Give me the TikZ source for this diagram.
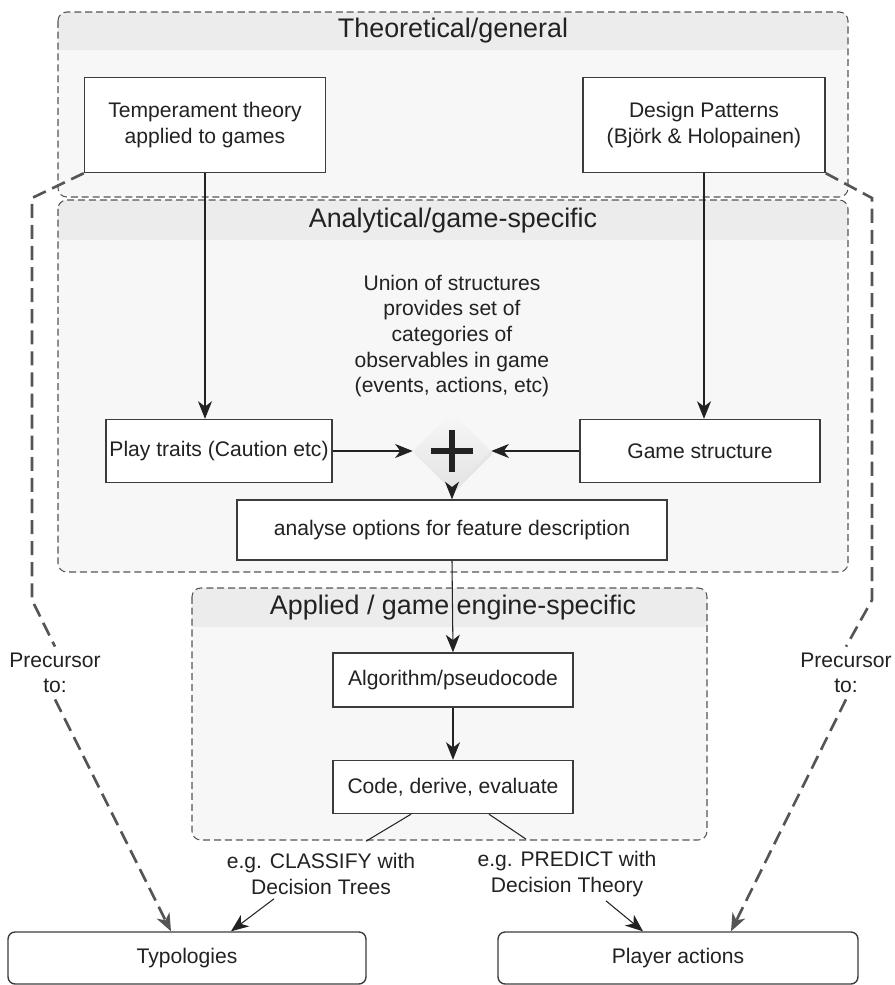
\documentclass[tikz,border=0pt]{standalone}
\usepackage{fontspec}
\setmainfont{Liberation Sans}
\usetikzlibrary{shapes.geometric, arrows.meta, positioning, calc, shadows}

\definecolor{zonefill}{HTML}{F7F7F7}
\definecolor{bandfill}{HTML}{ECECEC}
\definecolor{edgegray}{HTML}{3C3C3C}
\definecolor{dashgray}{HTML}{555555}
\definecolor{inkgray}{HTML}{222222}

\begin{document}
\begin{tikzpicture}[x=0.02cm, y=-0.02cm,
    every node/.style={font=\fontsize{12}{14.6}\selectfont, text=inkgray},
    zone/.style={draw=dashgray, line width=0.6pt, dash pattern=on 4pt off 2.2pt, rounded corners=5pt},
    zonetitle/.style={font=\fontsize{15.3}{18}\selectfont},
    box/.style={draw=edgegray, line width=0.8pt, fill=white, align=center, inner sep=2pt},
    endbox/.style={box, rounded corners=4pt},
    flow/.style={-{Stealth[length=10pt, width=8pt, inset=3pt]}, line width=0.6pt, draw=inkgray},
    link/.style={line width=0.6pt, draw=inkgray},
    precursor/.style={draw=dashgray, line width=1.5pt, dash pattern=on 8pt off 4pt},
    precarrow/.style={precursor, -{Stealth[length=10pt, width=8pt, inset=3pt]}}
]
\useasboundingbox (0,0) rectangle (894,985);

% Theoretical zone
\fill[zonefill, rounded corners=5pt] (58,12) rectangle (848,197);
\begin{scope}
    \clip[rounded corners=5pt] (58,12) rectangle (848,197);
    \fill[bandfill] (58,12) rectangle (848,50);
\end{scope}
\draw[zone] (58,12) rectangle (848,197);
\node[zonetitle] (theotitle) at (453,31) {Theoretical/general};

% Analytical zone
\fill[zonefill, rounded corners=5pt] (58,200) rectangle (848,572);
\begin{scope}
    \clip[rounded corners=5pt] (58,200) rectangle (848,572);
    \fill[bandfill] (58,200) rectangle (848,240);
\end{scope}
\draw[zone] (58,200) rectangle (848,572);
\node[zonetitle] (anatitle) at (453,221) {Analytical/game-specific};

% Applied zone
\fill[zonefill, rounded corners=5pt] (192,588) rectangle (707,840);
\begin{scope}
    \clip[rounded corners=5pt] (192,588) rectangle (707,840);
    \fill[bandfill] (192,588) rectangle (707,627);
\end{scope}
\draw[zone] (192,588) rectangle (707,840);
\node[zonetitle] (apptitle) at (453,608) {Applied / game engine-specific};

% Boxes
\node[box, minimum width=4.82cm, minimum height=1.9cm] (temp) at (205,125)
    {Temperament theory\\[0.5pt]applied to games};
\node[box, minimum width=4.84cm, minimum height=1.9cm] (design) at (704,125)
    {Design Patterns\\[0.5pt](Björk \& Holopainen)};
\node[box, minimum width=3.96cm, minimum height=1.26cm] (traits) at (219,451) {Play traits (Caution etc)};
\node[box, minimum width=4.8cm, minimum height=1.26cm] (gstruct) at (700,451) {Game structure};
\node[align=center] (union) at (452,336)
    {Union of structures\\provides set of\\categories of\\observables in game\\(events, actions, etc)};
\node[diamond, aspect=1, minimum width=1.56cm, minimum height=1.56cm, inner sep=0pt,
      top color=gray!6, bottom color=gray!22, draw=none,
      drop shadow={shadow xshift=1pt, shadow yshift=-1.5pt, opacity=0.15}] (plus) at (452,451) {};
\draw[line width=3.4pt, inkgray] ($(plus.center)+(-21,0)$) -- ($(plus.center)+(21,0)$);
\draw[line width=3.4pt, inkgray] ($(plus.center)+(0,-21)$) -- ($(plus.center)+(0,21)$);
\node[box, minimum width=8.6cm, minimum height=1.2cm] (analyse) at (452,530) {analyse options for feature description};
\node[box, minimum width=4.8cm, minimum height=1.08cm] (algo) at (453,680) {Algorithm/pseudocode};
\node[box, minimum width=4.8cm, minimum height=1.06cm] (code) at (453,787) {Code, derive, evaluate};

% Outcomes
\node[align=center] (cls) at (321,874) {e.g. CLASSIFY with\\Decision Trees};
\node[align=center] (prd) at (567,874) {e.g. PREDICT with\\Decision Theory};
\node[endbox, minimum width=7.16cm, minimum height=1.04cm] (typ) at (187,958) {Typologies};
\node[endbox, minimum width=7.2cm, minimum height=1.04cm] (player) at (678,958) {Player actions};
\node[align=center] (prec1) at (55,673) {Precursor\\to:};
\node[align=center] (prec2) at (846,673) {Precursor\\to:};

% Flow
\draw[flow] (temp.south) -- (temp.south |- traits.north);
\draw[flow] (design.south) -- (design.south |- gstruct.north);
\draw[flow] (traits.east) -- (plus.west);
\draw[flow] (gstruct.west) -- (plus.east);
\draw[flow] (plus.south) -- (analyse.north);
\draw[flow] (analyse.south) -- (algo.north);
\draw[flow] (algo.south) -- (code.north);
\draw[link] ($(code.south)+(-42,0)$) -- ($(cls.north)+(45,-6)$);
\draw[link] ($(code.south)+(36,0)$) -- ($(prd.north)+(-41,-6)$);
\draw[flow] ($(cls.south)+(-47,-2)$) -- ($(typ.north)+(44,0)$);
\draw[flow] ($(prd.south)+(39,-2)$) -- ($(player.north)+(-35,0)$);

% Precursor links
\draw[precursor] (temp.south west) -- (32,198) -- (32,600) -- (prec1.north);
\draw[precarrow] (prec1.south) -- ($(typ.north)+(-16,0)$);
\draw[precursor] (design.south east) -- (872,198) -- (872,600) -- (prec2.north);
\draw[precarrow] (prec2.south) -- ($(player.north)+(53,0)$);

\end{tikzpicture}
\end{document}
